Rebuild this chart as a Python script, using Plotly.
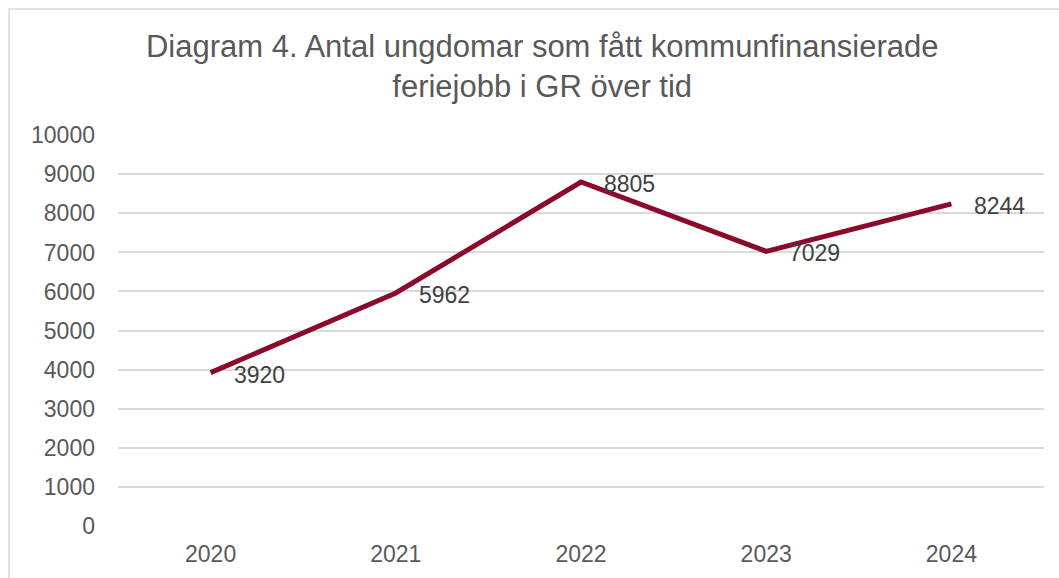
import plotly.graph_objects as go

years = ["2020", "2021", "2022", "2023", "2024"]
values = [3920, 5962, 8805, 7029, 8244]
y_ticks = list(range(0, 10001, 1000))
y_ticktext = [str(v) for v in y_ticks]

title_text = "Diagram 4. Antal ungdomar som fått kommunfinansierade<br>feriejobb i GR över tid"

FONT = "Liberation Sans"
LINE_COLOR = "#8B0A2B"

idx = list(range(len(years)))

fig = go.Figure()
fig.add_trace(go.Scatter(
    x=idx, y=values, mode="lines",
    line=dict(color=LINE_COLOR, width=5),
    hoverinfo="skip", showlegend=False,
))

for i, v in zip(idx, values):
    fig.add_annotation(
        x=i, y=v, text=str(v), showarrow=False,
        xanchor="left", yanchor="middle", xshift=21, yshift=-2,
        font=dict(family=FONT, size=23, color="#404040"),
    )

# outer chart border (light gray), partly cropped like the reference
fig.add_shape(type="rect", xref="paper", yref="paper",
              x0=-0.1177, x1=1.03, y0=-0.2, y1=1.322,
              line=dict(color="#D9D9D9", width=1.5), fillcolor="rgba(0,0,0,0)",
              layer="below")

fig.update_layout(
    width=1059, height=578,
    margin=dict(l=118, r=15, t=135, b=52),
    paper_bgcolor="white", plot_bgcolor="white",
    title=dict(text=title_text, x=0.512, xanchor="center",
               yref="container", y=0.902, yanchor="middle",
               font=dict(family=FONT, size=31, color="#595959")),
    xaxis=dict(range=[-0.5, len(years) - 0.5], tickvals=idx, ticktext=years,
               showgrid=False, zeroline=False, showline=False,
               tickfont=dict(family=FONT, size=23, color="#595959"),
               ticks="", ticklabelstandoff=12),
    yaxis=dict(range=[-10, 10010], tickvals=y_ticks, ticktext=y_ticktext,
               showgrid=True, gridcolor="#D9D9D9", gridwidth=1.5,
               zeroline=False, showline=False,
               tickfont=dict(family=FONT, size=23, color="#595959"),
               ticks="", ticklabelstandoff=22),
)

fig.write_html("out.html")
